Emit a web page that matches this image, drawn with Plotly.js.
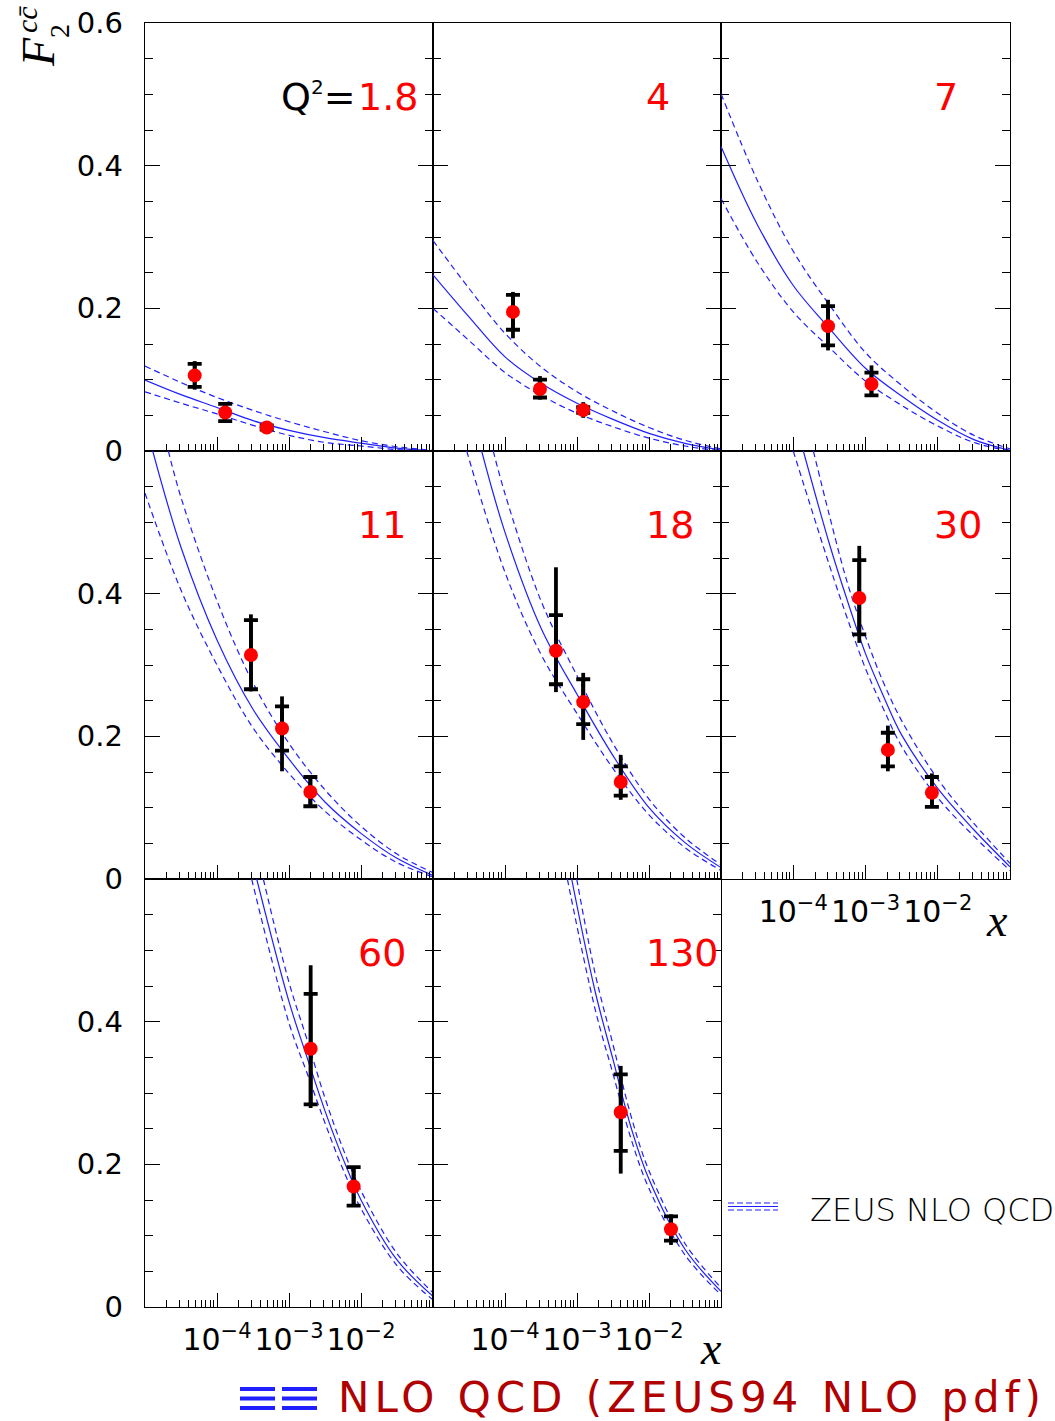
<!DOCTYPE html>
<html><head><meta charset="utf-8">
<script src="https://cdn.plot.ly/plotly-3.0.1.min.js"></script>
<style>html,body{margin:0;padding:0;background:#fff}#chart{width:1055px;height:1421px}</style>
</head><body><div id="chart"></div>
<script>
// ---------------- data ----------------
const q2Labels = ["1.8", "4", "7", "11", "18", "30", "60", "130"];

const pointX = [
  [4.9e-5, 1.3e-4, 4.9e-4],
  [1.29e-4, 3.06e-4, 1.22e-3],
  [3.03e-4, 1.21e-3],
  [2.96e-4, 8.0e-4, 1.98e-3],
  [5.1e-4, 1.22e-3, 4.05e-3],
  [8.2e-4, 2.04e-3, 8.3e-3],
  [2.0e-3, 7.9e-3],
  [4.05e-3, 2.02e-2]
];
const pointY = [
  [0.106, 0.054, 0.033],
  [0.195, 0.087, 0.0575],
  [0.175, 0.094],
  [0.314, 0.211, 0.122],
  [0.320, 0.248, 0.136],
  [0.394, 0.181, 0.121],
  [0.362, 0.169],
  [0.273, 0.109]
];
const statUp = [
  [0.016, 0.012, 0.003], [0.024, 0.013, 0.004], [0.028, 0.016],
  [0.049, 0.031, 0.021], [0.050, 0.032, 0.022], [0.053, 0.024, 0.022],
  [0.077, 0.027], [0.053, 0.018]
];
const statDown = [
  [0.016, 0.012, 0.003], [0.025, 0.012, 0.004], [0.027, 0.016],
  [0.048, 0.031, 0.020], [0.047, 0.031, 0.019], [0.051, 0.023, 0.020],
  [0.078, 0.027], [0.054, 0.016]
];
const totalUp = [
  [0.020, 0.012, 0.005], [0.028, 0.018, 0.011], [0.037, 0.026],
  [0.057, 0.045, 0.021], [0.117, 0.041, 0.038], [0.073, 0.034, 0.027],
  [0.117, 0.027], [0.065, 0.021]
];
const totalDown = [
  [0.020, 0.012, 0.005], [0.037, 0.015, 0.011], [0.034, 0.016],
  [0.051, 0.060, 0.020], [0.058, 0.053, 0.025], [0.063, 0.030, 0.020],
  [0.083, 0.027], [0.086, 0.022]
];

// NLO QCD curves: central (solid), upper and lower (dashed)
const curveMidX = [
  [1e-5, 3.16e-5, 1e-4, 3.16e-4, 1e-3, 3.16e-3, 1e-2, 3.16e-2, 0.1],
  [1e-5, 3.16e-5, 1e-4, 3.16e-4, 1e-3, 3.16e-3, 1e-2, 3.16e-2, 0.1],
  [1e-5, 3.16e-5, 1e-4, 3.16e-4, 1e-3, 3.16e-3, 1e-2, 3.16e-2, 0.1],
  [1.28e-5, 3.16e-5, 1e-4, 3.16e-4, 1e-3, 3.16e-3, 1e-2, 3.16e-2, 0.1],
  [4.74e-5, 1e-4, 3.16e-4, 1e-3, 3.16e-3, 1e-2, 3.16e-2, 0.1],
  [1.38e-4, 3.16e-4, 5.62e-4, 1e-3, 1.78e-3, 3.16e-3, 1e-2, 3.16e-2, 0.1],
  [3.56e-4, 1e-3, 1.78e-3, 3.16e-3, 5.62e-3, 1e-2, 3.16e-2, 0.1],
  [8.43e-4, 1.78e-3, 3.16e-3, 5.62e-3, 1e-2, 3.16e-2, 0.1]
];
const curveMidY = [
  [0.0995, 0.079, 0.061, 0.0425, 0.029, 0.0187, 0.011, 0.004, 0.0],
  [0.247, 0.188, 0.132, 0.095, 0.067, 0.0444, 0.0248, 0.0108, 0.0014],
  [0.427, 0.318, 0.232, 0.172, 0.116, 0.077, 0.043, 0.016, 0.001],
  [0.6, 0.465, 0.335, 0.238, 0.168, 0.108, 0.064, 0.029, 0.005],
  [0.6, 0.486, 0.352, 0.259, 0.173, 0.100, 0.051, 0.016],
  [0.6, 0.47, 0.39, 0.316, 0.256, 0.202, 0.127, 0.069, 0.017],
  [0.6, 0.428, 0.35, 0.275, 0.208, 0.15, 0.066, 0.015],
  [0.6, 0.443, 0.347, 0.252, 0.179, 0.081, 0.022]
];
const curveHighX = [
  [1e-5, 3.16e-5, 1e-4, 3.16e-4, 1e-3, 3.16e-3, 1e-2, 3.16e-2, 0.1],
  [1e-5, 3.16e-5, 1e-4, 3.16e-4, 1e-3, 3.16e-3, 1e-2, 3.16e-2, 0.1],
  [1e-5, 3.16e-5, 1e-4, 3.16e-4, 1e-3, 3.16e-3, 1e-2, 3.16e-2, 0.1],
  [2.11e-5, 3.16e-5, 1e-4, 3.16e-4, 1e-3, 3.16e-3, 1e-2, 3.16e-2, 0.1],
  [6.87e-5, 1e-4, 3.16e-4, 1e-3, 3.16e-3, 1e-2, 3.16e-2, 0.1],
  [1.90e-4, 3.16e-4, 5.62e-4, 1e-3, 1.78e-3, 3.16e-3, 1e-2, 3.16e-2, 0.1],
  [4.40e-4, 1e-3, 1.78e-3, 3.16e-3, 5.62e-3, 1e-2, 3.16e-2, 0.1],
  [9.91e-4, 1.78e-3, 3.16e-3, 5.62e-3, 1e-2, 3.16e-2, 0.1]
];
const curveHighY = [
  [0.119, 0.096, 0.075, 0.057, 0.041, 0.027, 0.0145, 0.006, 0.001],
  [0.295, 0.228, 0.165, 0.118, 0.083, 0.056, 0.033, 0.015, 0.003],
  [0.501, 0.38, 0.28, 0.205, 0.138, 0.092, 0.053, 0.022, 0.003],
  [0.6, 0.535, 0.39, 0.275, 0.19, 0.125, 0.074, 0.035, 0.009],
  [0.6, 0.54, 0.39, 0.285, 0.19, 0.112, 0.058, 0.02],
  [0.6, 0.51, 0.415, 0.34, 0.275, 0.222, 0.140, 0.078, 0.022],
  [0.6, 0.455, 0.375, 0.293, 0.222, 0.163, 0.075, 0.02],
  [0.6, 0.468, 0.368, 0.268, 0.191, 0.089, 0.027]
];
const curveLowX = [
  [1e-5, 3.16e-5, 1e-4, 3.16e-4, 1e-3, 3.16e-3, 1e-2, 3.16e-2, 0.1],
  [1e-5, 3.16e-5, 1e-4, 3.16e-4, 1e-3, 3.16e-3, 1e-2, 3.16e-2, 0.1],
  [1e-5, 3.16e-5, 1e-4, 3.16e-4, 1e-3, 3.16e-3, 1e-2, 3.16e-2, 0.1],
  [1e-5, 3.16e-5, 1e-4, 3.16e-4, 1e-3, 3.16e-3, 1e-2, 3.16e-2, 0.1],
  [2.94e-5, 1e-4, 3.16e-4, 1e-3, 3.16e-3, 1e-2, 3.16e-2, 0.1],
  [1e-4, 3.16e-4, 5.62e-4, 1e-3, 1.78e-3, 3.16e-3, 1e-2, 3.16e-2, 0.1],
  [3.03e-4, 1e-3, 1.78e-3, 3.16e-3, 5.62e-3, 1e-2, 3.16e-2, 0.1],
  [7.35e-4, 1.78e-3, 3.16e-3, 5.62e-3, 1e-2, 3.16e-2, 0.1]
];
const curveLowY = [
  [0.083, 0.067, 0.052, 0.036, 0.022, 0.012, 0.007, 0.002, 0.0],
  [0.200, 0.155, 0.110, 0.078, 0.053, 0.034, 0.018, 0.007, 0.0],
  [0.354, 0.265, 0.195, 0.145, 0.098, 0.064, 0.035, 0.012, 0.0],
  [0.541, 0.405, 0.30, 0.212, 0.148, 0.095, 0.055, 0.023, 0.003],
  [0.6, 0.43, 0.315, 0.232, 0.155, 0.090, 0.044, 0.012],
  [0.6, 0.44, 0.365, 0.295, 0.238, 0.186, 0.114, 0.060, 0.012],
  [0.6, 0.398, 0.328, 0.258, 0.193, 0.138, 0.058, 0.01],
  [0.6, 0.418, 0.327, 0.236, 0.166, 0.073, 0.017]
];

const xTickVals = [1e-4, 1e-3, 1e-2];
const xTickText = ["10<sup>\u22124</sup>", "10<sup>\u22123</sup>", "10<sup>\u22122</sup>"];
const yTickValsTop = [0, 0.2, 0.4, 0.6];
const yTickTextTop = ["0", "0.2", "0.4", "0.6"];
const yTickValsLower = [0, 0.2, 0.4];
const yTickTextLower = ["0", "0.2", "0.4"];

// ---------------- layout geometry ----------------
const W = 1055, H = 1421;
const colPx = [[145, 433], [433, 721], [721, 1010]];
const rowPx = [[23, 451], [451, 879], [879, 1307]];
const px = v => v / W;
const py = v => 1 - v / H;

const xMinor = [];
for (let e = -5; e < -1; e++) for (let d = 2; d <= 9; d++) xMinor.push(d * Math.pow(10, e));

const BLUE = "#1f1fff";
const SANS = "DejaVu Sans, Liberation Sans, sans-serif";
const SERIF = "Liberation Serif, DejaVu Serif, serif";

const traces = [];
const layout = {
  width: W, height: H,
  margin: {l: 0, r: 0, t: 0, b: 0},
  paper_bgcolor: "#fff", plot_bgcolor: "#fff",
  showlegend: false,
  annotations: [], shapes: []
};

q2Labels.forEach((lab, i) => {
  const row = Math.floor(i / 3), col = i % 3, n = i + 1;
  const xa = "x" + n, ya = "y" + n;
  const showX = (i >= 5);
  layout["xaxis" + n] = {
    type: "log", range: [-5, -1],
    domain: [px(colPx[col][0]), px(colPx[col][1])],
    anchor: ya,
    showline: true, linecolor: "#000", linewidth: 1.3, mirror: true,
    ticks: "inside", ticklen: 14, tickwidth: 1, tickcolor: "#000",
    tickmode: "array", tickvals: xTickVals, ticktext: xTickText,
    showticklabels: showX,
    ticklabelstandoff: 6,
    tickfont: {family: SANS, size: 30, color: "#000"},
    showgrid: false, zeroline: false,
    minor: {ticks: "inside", ticklen: 7, tickwidth: 1, tickcolor: "#000",
            tickmode: "array", tickvals: xMinor, showgrid: false}
  };
  layout["yaxis" + n] = {
    range: [0, 0.6],
    domain: [py(rowPx[row][1]), py(rowPx[row][0])],
    anchor: xa,
    showline: true, linecolor: "#000", linewidth: 1.3, mirror: "ticks",
    ticks: "inside", ticklen: 15, tickwidth: 1, tickcolor: "#000",
    tickmode: "array",
    tickvals: row === 0 ? yTickValsTop : yTickValsLower,
    ticktext: row === 0 ? yTickTextTop : yTickTextLower,
    showticklabels: col === 0,
    ticklabelstandoff: 15,
    tickfont: {family: SANS, size: 29, color: "#000"},
    showgrid: false, zeroline: false,
    minor: {ticks: "inside", ticklen: 8, tickwidth: 1, tickcolor: "#000",
            dtick: 0.05, tick0: 0, showgrid: false}
  };

  // curves
  traces.push({x: curveHighX[i], y: curveHighY[i], xaxis: xa, yaxis: ya, mode: "lines",
    line: {color: BLUE, width: 1.2, dash: "6px,4px", shape: "spline"}, hoverinfo: "skip"});
  traces.push({x: curveLowX[i], y: curveLowY[i], xaxis: xa, yaxis: ya, mode: "lines",
    line: {color: BLUE, width: 1.2, dash: "6px,4px", shape: "spline"}, hoverinfo: "skip"});
  traces.push({x: curveMidX[i], y: curveMidY[i], xaxis: xa, yaxis: ya, mode: "lines",
    line: {color: BLUE, width: 1.2, shape: "spline"}, hoverinfo: "skip"});

  // total errors (no caps)
  traces.push({x: pointX[i], y: pointY[i], xaxis: xa, yaxis: ya, mode: "markers",
    marker: {size: 1, color: "rgba(0,0,0,0)"},
    error_y: {type: "data", symmetric: false, array: totalUp[i], arrayminus: totalDown[i],
              color: "#000", thickness: 3.8, width: 0}});
  // statistical errors (with caps)
  traces.push({x: pointX[i], y: pointY[i], xaxis: xa, yaxis: ya, mode: "markers",
    marker: {size: 1, color: "rgba(0,0,0,0)"},
    error_y: {type: "data", symmetric: false, array: statUp[i], arrayminus: statDown[i],
              color: "#000", thickness: 3.8, width: 7}});
  // data points
  traces.push({x: pointX[i], y: pointY[i], xaxis: xa, yaxis: ya, mode: "markers",
    marker: {size: 14, color: "#ff0000", line: {width: 0}}});

  // Q2 value labels
  layout.annotations.push({
    xref: "paper", yref: "paper", x: px(colPx[col][0] + 211), y: py(rowPx[row][0] + 74),
    xanchor: "left", yanchor: "middle", showarrow: false, text: lab,
    font: {family: SANS, size: 38, color: "#ff0000"}
  });
});

layout.annotations.push({
  xref: "paper", yref: "paper", x: px(358), y: py(97), xanchor: "right", yanchor: "middle",
  showarrow: false, text: "Q<sup><span style=\"font-size:20px\">2</span></sup>=",
  font: {family: SANS, size: 38, color: "#000"}
});

// y-axis title F2^{cc̄}
layout.annotations.push({
  xref: "paper", yref: "paper", x: px(39), y: py(52), xanchor: "center", yanchor: "middle",
  showarrow: false, textangle: -90, text: "<i>F</i>", font: {family: SERIF, size: 46, color: "#000"}
});
layout.annotations.push({
  xref: "paper", yref: "paper", x: px(59), y: py(31), xanchor: "center", yanchor: "middle",
  showarrow: false, textangle: -90, text: "2", font: {family: SERIF, size: 28, color: "#000"}
});
layout.annotations.push({
  xref: "paper", yref: "paper", x: px(26), y: py(19), xanchor: "center", yanchor: "middle",
  showarrow: false, textangle: -90, text: "<i>cc\u0304</i>", font: {family: SERIF, size: 30, color: "#000"}
});

// x-axis titles
layout.annotations.push({
  xref: "paper", yref: "paper", x: px(997), y: py(920), xanchor: "center", yanchor: "middle",
  showarrow: false, text: "<i>x</i>", font: {family: SERIF, size: 46, color: "#000"}
});
layout.annotations.push({
  xref: "paper", yref: "paper", x: px(711), y: py(1348), xanchor: "center", yanchor: "middle",
  showarrow: false, text: "<i>x</i>", font: {family: SERIF, size: 46, color: "#000"}
});

// legend: ZEUS NLO QCD
[[1203, "dash"], [1206.5, "solid"], [1210, "dash"]].forEach(([yy, d]) => {
  layout.shapes.push({type: "line", xref: "paper", yref: "paper",
    x0: px(728), x1: px(778), y0: py(yy), y1: py(yy),
    line: {color: BLUE, width: 1.2, dash: d === "dash" ? "6px,3px" : "solid"}});
});
layout.annotations.push({
  xref: "paper", yref: "paper", x: px(808), y: py(1210), xanchor: "left", yanchor: "middle",
  showarrow: false, text: "ZEUS NLO QCD",
  font: {family: SANS, size: 32, color: "#000", weight: 200}
});

// bottom legend: NLO QCD (ZEUS94 NLO pdf)
[[240, 275], [282, 317]].forEach(([a, b]) => {
  [1389, 1398.5, 1408].forEach(yy => {
    layout.shapes.push({type: "line", xref: "paper", yref: "paper",
      x0: px(a), x1: px(b), y0: py(yy), y1: py(yy), line: {color: BLUE, width: 4}});
  });
});
layout.annotations.push({
  xref: "paper", yref: "paper", x: px(336), y: py(1397), xanchor: "left", yanchor: "middle",
  showarrow: false, text: "<span style=\"letter-spacing:5px\">NLO QCD (ZEUS94 NLO pdf)</span>",
  font: {family: SANS, size: 42, color: "#b00000"}
});

Plotly.newPlot("chart", traces, layout, {displayModeBar: false, staticPlot: true});
</script></body></html>
